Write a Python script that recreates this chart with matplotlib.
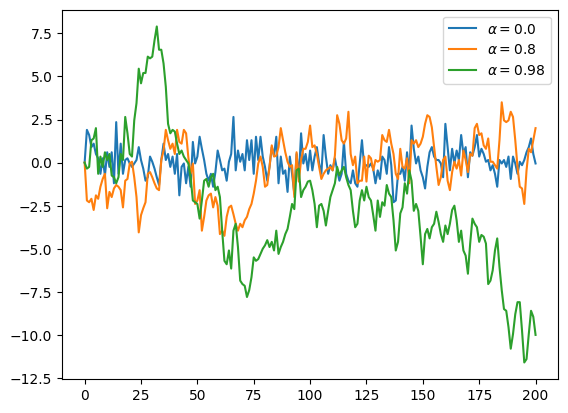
import numpy as np
import matplotlib
matplotlib.use("Agg")
import matplotlib.pyplot as plt

# ===== data (AR(1) traces) =====
alphas = [0.0, 0.8, 0.98]

series_a0 = [
    0.0, 1.9, 1.6, 0.9, 1.1, 0.5, 0.25, -0.65, 0.25, -0.75,
    0.6, -0.25, 0.6, -1.2, 2.35, -0.65, 1.1, -0.65, 0.15, 0.25,
    -0.05, -0.25, -0.05, 0.15, 0.9, 0.15, -0.35, -1.05, -0.85, 0.35,
    0.05, -0.35, -0.85, -1.3, 0.15, 1.1, 0.15, 0.5, -0.25, 0.35,
    -0.65, 0.5, -1.9, -0.25, -0.05, -1.2, -0.25, -1.4, 1.2, -0.05,
    0.35, 1.5, 0.8, 0.15, -0.65, -1.05, -0.65, -1.4, -0.55, 0.7,
    0.15, -0.45, -0.35, -1.05, 0.05, 0.5, 2.65, -0.45, 0.7, 0.05,
    0.5, -0.45, 1.3, 0.15, 1.3, -0.65, 1.5, 0.15, 1.5, 0.35,
    -0.25, -1.05, -0.25, 0.9, 0.4, 1.5, -1.2, 0.35, -0.65, -0.45,
    -1.7, 0.35, -0.65, -1.8, 0.5, -0.85, 1.7, -0.05, 0.5, -0.45,
    0.7, -0.45, 0.35, 0.9, -0.05, -0.65, 1.6, 0.35, -0.65, -0.15,
    -0.45, 0.25, -0.45, -1.05, -0.65, 1.2, -0.65, -1.05, -1.2, -0.45,
    -1.2, -1.4, -0.05, 1.3, -0.25, -0.15, -0.25, -0.05, -0.35, -1.2,
    -0.45, -0.95, 0.35, 0.15, -0.65, 0.9, -0.15, -2.3, -2.2, -0.65,
    -0.65, -0.25, -1.05, 0.6, -0.65, 2.15, 0.8, -0.05, 0.35, -0.45,
    -0.85, -1.5, -0.25, 0.6, 0.9, 0.35, 0.15, 0.15, -0.05, -0.85,
    2.25, 0.9, -0.45, 0.8, -0.05, 0.7, 0.15, 1.6, 0.5, 0.9,
    -0.85, 0.6, 0.4, 0.9, 1.6, 0.35, 0.8, 0.5, 0.05, 0.15,
    -0.45, -0.15, -0.65, -1.4, 0.15, -0.05, 0.15, -0.25, 0.35, -0.95,
    0.35, -0.05, -0.65, 0.05, -0.15, 0.15, 0.6, 0.9, 1.4, 0.5,
    -0.05,
]

series_a08 = [
    0.0, -2.2, -2.3, -2.1, -2.75, -1.9, -2.1, -1.4, -0.95, -0.65,
    -2.65, -1.7, -2.0, -1.5, -1.3, -1.4, -1.6, -2.6, -1.05, -0.95,
    -0.05, 0.05, -0.85, -2.0, -4.05, -3.05, -2.65, -2.3, -0.65, -0.55,
    -0.85, -1.2, -1.5, -1.6, 0.15, 0.7, 1.9, 1.3, 0.8, 1.1,
    0.5, 1.9, 1.2, 1.1, 1.9, 1.7, 0.3, -0.65, -0.05, -2.4,
    -2.2, -1.6, -3.95, -3.15, -2.2, -1.9, -1.8, -2.6, -2.0, -2.5,
    -4.15, -3.95, -4.25, -3.15, -2.6, -2.5, -3.0, -3.55, -3.95, -3.55,
    -3.75, -3.35, -3.15, -2.7, -2.4, -1.8, -1.05, -0.05, 0.35, -0.25,
    -1.4, -1.3, -0.25, 1.0, 0.35, 0.4, 0.9, 2.0, 1.3, 0.6,
    0.05, -0.25, -0.15, -2.0, 0.6, -1.1, 0.15, 0.8, 0.8, 1.2,
    2.15, 0.9, 1.0, 0.5, -0.25, -0.95, -0.65, -0.45, -0.35, -0.25,
    -0.45, 0.4, 2.75, 2.25, 1.3, 1.1, 1.4, 2.95, 0.5, -0.15,
    0.35, -1.2, -1.05, -1.05, 0.35, -1.1, 0.4, 0.25, -0.45, 0.15,
    0.05, 0.15, 1.6, 1.3, 1.2, 1.9, 1.1, 0.5, -0.65, -0.95,
    0.8, -0.25, -0.35, 0.25, -1.2, 1.3, 1.1, 1.3, 0.9, 1.1,
    1.5, 2.25, 2.75, 2.65, 2.05, 0.9, -0.25, -1.3, -0.85, 0.15,
    0.35, -1.05, -1.6, -0.55, 0.05, -0.35, 0.15, -0.75, 0.7, 0.15,
    -0.55, 0.5, 0.4, 2.0, 2.25, 1.6, 1.7, 1.0, 0.8, 1.4,
    0.05, 0.05, -0.15, -0.35, 1.3, 3.5, 2.45, 2.35, 2.45, 2.95,
    2.65, 1.3, -0.25, -1.4, -1.5, -2.4, -0.45, 0.8, 0.6, 1.3,
    2.0,
]

series_a098 = [
    0.0, -0.35, -0.25, 1.3, 1.4, 2.0, -0.65, 0.35, -0.25, 0.6,
    0.15, 0.5, -0.75, -0.85, -1.2, -0.85, 0.5, 0.15, 2.65, 1.7,
    0.5, 0.35, 2.45, 3.45, 5.45, 4.6, 5.2, 5.2, 6.15, 6.05,
    6.15, 7.1, 7.9, 6.55, 6.55, 5.75, 4.4, 2.25, 1.7, 1.9,
    1.8, 1.1, 0.5, 0.7, 0.35, 0.15, -0.05, -0.85, -2.2, -2.3,
    -2.4, -3.25, -2.2, -1.05, -0.95, -1.4, -0.85, -0.65, -1.6, -1.4,
    -2.0, -3.95, -5.7, -5.9, -5.1, -6.15, -3.95, -3.55, -4.9, -6.85,
    -7.05, -7.15, -7.8, -7.4, -6.65, -5.5, -5.7, -5.6, -5.3, -5.0,
    -4.8, -4.5, -4.9, -4.6, -5.1, -3.95, -5.3, -4.9, -4.6, -4.15,
    -3.85, -3.15, -2.4, -2.7, -0.45, -0.35, -2.0, -1.6, -1.4, -1.1,
    -1.05, -1.6, -2.4, -3.75, -2.5, -2.4, -2.8, -3.65, -2.8, -2.0,
    -1.6, -1.2, -0.25, -0.75, -0.45, -0.25, -0.85, -1.3, -1.6, -2.8,
    -3.75, -3.55, -2.2, -1.6, -2.2, -1.4, -2.0, -2.2, -3.05, -3.95,
    -2.2, -3.15, -2.3, -2.5, -1.3, -1.8, -2.0, -3.35, -5.1, -4.6,
    -2.95, -2.6, -1.2, -1.8, -0.45, -1.05, -2.8, -2.4, -2.8, -4.3,
    -5.9, -4.15, -3.85, -4.4, -3.75, -3.55, -2.85, -3.45, -4.15, -4.6,
    -3.65, -4.15, -3.55, -2.75, -2.5, -3.35, -4.6, -3.95, -5.1, -5.4,
    -6.45, -4.7, -3.25, -3.55, -3.75, -4.6, -4.2, -4.3, -4.7, -7.05,
    -6.85, -6.25, -5.1, -4.4, -6.05, -7.4, -8.5, -8.6, -9.55, -10.8,
    -9.95, -8.8, -8.1, -8.1, -9.75, -11.6, -11.4, -9.95, -8.6, -8.95,
    -10.0,
]

# ===== plot =====
fig, ax = plt.subplots(figsize=(6.4, 4.8))
for a, ys in zip(alphas, [series_a0, series_a08, series_a098]):
    ax.plot(np.arange(len(ys)), ys, label=rf"$\alpha = {a}$")

ax.legend(loc="upper right")
fig.savefig("out.png", dpi=100, bbox_inches="tight")
